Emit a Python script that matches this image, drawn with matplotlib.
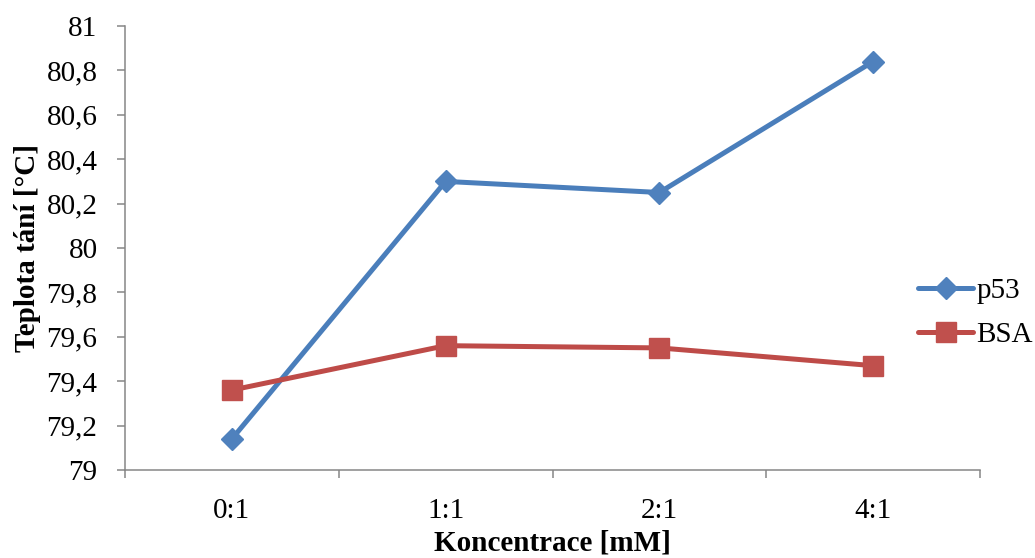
import matplotlib
matplotlib.use('Agg')
import matplotlib.pyplot as plt

# data
categories = ['0:1', '1:1', '2:1', '4:1']
p53 = [79.14, 80.30, 80.25, 80.84]
bsa = [79.36, 79.56, 79.55, 79.47]
yticks = [79, 79.2, 79.4, 79.6, 79.8, 80, 80.2, 80.4, 80.6, 80.8, 81]

plt.rcParams['font.family'] = ['Liberation Serif', 'DejaVu Serif']

fig = plt.figure(figsize=(10.35, 5.58), dpi=100)
ax = fig.add_axes([125/1035, 1-470/558, 855/1035, 444/558])

x = list(range(len(categories)))
ax.plot(x, p53, color='#4A7EBB', lw=3.6, marker='D', ms=11.5,
        mfc='#4F81BD', mec='#4F81BD', label='p53', solid_capstyle='round')
ax.plot(x, bsa, color='#BE4B48', lw=3.6, marker='s', ms=14.4,
        mfc='#C0504D', mec='#C0504D', label='BSA', solid_capstyle='round')

ax.set_xlim(-0.5, 3.5)
ax.set_ylim(79, 81)
ax.set_yticks(yticks)
ax.set_yticklabels([('%g' % v).replace('.', ',') for v in yticks])

# Excel style: tick marks between categories, labels at centers
ax.set_xticks([-0.5, 0.5, 1.5, 2.5, 3.5])
ax.set_xticklabels([])
ax.set_xticks(x, minor=True)
ax.set_xticklabels(categories, minor=True)

grey = '#868686'
for s in ['top', 'right']:
    ax.spines[s].set_visible(False)
for s in ['left', 'bottom']:
    ax.spines[s].set_color(grey)
    ax.spines[s].set_linewidth(1.1)

ax.tick_params(axis='y', which='major', direction='out', length=5.8, width=1.1,
               color=grey, labelsize=21, pad=14)
ax.tick_params(axis='x', which='major', direction='out', length=5.8, width=1.1,
               color=grey)
ax.tick_params(axis='x', which='minor', length=0, labelsize=21, pad=20)

fig.text(28/1035, 1-248/558, 'Teplota tání [°C]', rotation=90, ha='center',
         va='center', fontsize=21, fontweight='bold')
# x label sits right at the bottom edge, as in the reference
fig.text(552/1035, 1/558, 'Koncentrace [mM]', ha='center', va='bottom',
         fontsize=21, fontweight='bold')

fig.legend(loc='center left', bbox_to_anchor=(918/1035, 1-313/558),
           frameon=False, fontsize=21, borderaxespad=0, borderpad=0,
           handlelength=1.9, handletextpad=0.1, labelspacing=0.6)

fig.savefig('out.png', dpi=100)
